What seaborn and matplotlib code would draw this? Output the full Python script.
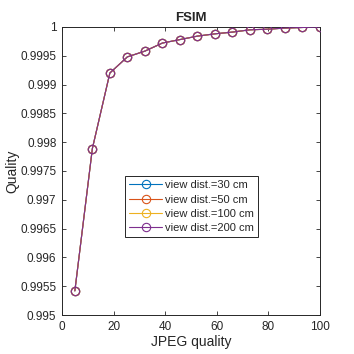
import numpy as np
import matplotlib
matplotlib.use("Agg")
import matplotlib.pyplot as plt
from matplotlib.ticker import FuncFormatter, MultipleLocator
import seaborn as sns

# JPEG quality levels
jpeg_quality = [5, 11.79, 18.57, 25.36, 32.14, 38.93, 45.71, 52.5,
                59.29, 66.07, 72.86, 79.64, 86.43, 93.21, 100]

# FSIM per viewing distance (curves lie on top of each other)
fsim_30 = [0.99542, 0.99789, 0.99920, 0.99948, 0.99958, 0.99972, 0.99978, 0.99984,
           0.99988, 0.99991, 0.99995, 0.99996, 0.99998, 0.99999, 1.0]
fsim_50 = list(fsim_30)
fsim_100 = list(fsim_30)
fsim_200 = list(fsim_30)

labels = ["view dist.=30 cm", "view dist.=50 cm", "view dist.=100 cm", "view dist.=200 cm"]
colors = ["#0072BD", "#D95319", "#EDB120", "#7E2F8E"]

sns.set_theme(style="ticks")
plt.rcParams["font.family"] = ["Liberation Sans", "DejaVu Sans"]

fig = plt.figure(figsize=(3.54, 3.54), dpi=100)
ax = fig.add_axes([0.175, 0.110, 0.729, 0.814])

series = [fsim_30, fsim_50, fsim_100, fsim_200]
for i, (vals, lab, c) in enumerate(zip(series, labels, colors)):
    top = i == len(series) - 1
    lw = 0.8 if top else 0.2
    sns.lineplot(x=jpeg_quality, y=vals, ax=ax, color=c, label=lab,
                 marker="o", markersize=6, markerfacecolor="none",
                 markeredgecolor=c, markeredgewidth=lw, linewidth=lw,
                 antialiased=top, zorder=3 if top else 2)

ax.set_xlim(0, 100)
ax.set_ylim(0.995, 1.0)
ax.xaxis.set_major_locator(MultipleLocator(20))
ax.yaxis.set_major_locator(MultipleLocator(0.0005))
ax.yaxis.set_major_formatter(FuncFormatter(lambda v, p: "%g" % round(v, 5)))

ax.tick_params(direction="in", top=True, right=True, length=3, width=0.6,
               labelsize=8.5, colors="#262626", pad=4)
for s in ax.spines.values():
    s.set_visible(True)
    s.set_linewidth(0.7)
    s.set_color("#262626")

ax.set_xlabel("JPEG quality", fontsize=10, color="#262626", labelpad=2)
ax.set_ylabel("Quality", fontsize=10, color="#262626", labelpad=1)
ax.set_title("FSIM", fontsize=9.5, fontweight="bold", pad=4)

handles, _ = ax.get_legend_handles_labels()
for h in handles:
    h.set_linewidth(0.8)
    h.set_markeredgewidth(0.8)
    h.set_antialiased(True)
leg = ax.legend(handles, labels, loc="upper left", bbox_to_anchor=(0.243, 0.483),
                fontsize=8, frameon=True, fancybox=False, borderpad=0.4,
                labelspacing=0.38, handlelength=3.0, handletextpad=0.2,
                borderaxespad=0)
leg.get_frame().set_edgecolor("#262626")
leg.get_frame().set_linewidth(0.7)
leg.get_frame().set_alpha(1)

fig.savefig("out.png", dpi=100)
